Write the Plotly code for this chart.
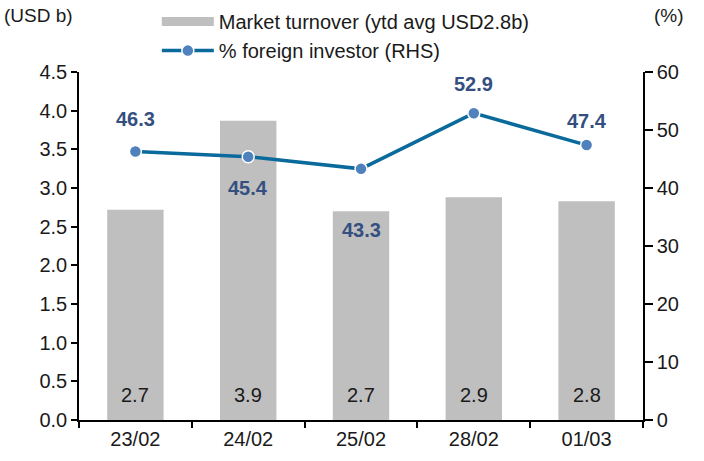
import plotly.graph_objects as go

categories = ["23/02", "24/02", "25/02", "28/02", "01/03"]
turnover = [2.72, 3.87, 2.70, 2.88, 2.83]
turnover_labels = ["2.7", "3.9", "2.7", "2.9", "2.8"]
foreign_pct = [46.3, 45.4, 43.3, 52.9, 47.4]
foreign_labels = ["46.3", "45.4", "43.3", "52.9", "47.4"]
label_shift = [32, -31, -61, 29, 24]

FONT = "Liberation Sans, Arial, sans-serif"
BAR_COLOR = "#BFBFBF"
PLOT_TOP = 348 / 420

fig = go.Figure()
fig.add_trace(go.Bar(
    x=categories, y=turnover, name="Market turnover (ytd avg USD2.8b)",
    marker=dict(color=BAR_COLOR, line=dict(width=0)),
    width=0.5, showlegend=False,
))
# legend proxy for the bar series (wide grey rectangle)
fig.add_trace(go.Scatter(
    x=[None], y=[None], mode="lines", name="Market turnover (ytd avg USD2.8b)",
    line=dict(color=BAR_COLOR, width=9),
))
fig.add_trace(go.Scatter(
    x=categories, y=foreign_pct, name="% foreign investor (RHS)", yaxis="y2",
    mode="lines+markers",
    line=dict(color="#0A6A9C", width=3.5),
    marker=dict(color="#4F81BD", size=12, line=dict(color="white", width=1.5)),
))

annotations = []
for c, v, t, s in zip(categories, foreign_pct, foreign_labels, label_shift):
    annotations.append(dict(x=c, y=v, xref="x", yref="y2", text=f"<b>{t}</b>", showarrow=False,
                            yshift=s, font=dict(size=20, color="#344F80", family=FONT)))
for c, t in zip(categories, turnover_labels):
    annotations.append(dict(x=c, y=0, xref="x", yref="y", text=t, showarrow=False,
                            yshift=25, font=dict(size=20, color="#1a1a1a", family=FONT)))
annotations += [
    dict(x=0, y=1, xref="paper", yref="paper", xanchor="left", yanchor="top",
         text="(USD b)", showarrow=False, font=dict(size=19), xshift=-77, yshift=-3),
    dict(x=1, y=1, xref="paper", yref="paper", xanchor="left", yanchor="top",
         text="(%)", showarrow=False, font=dict(size=19), xshift=9, yshift=-3),
]

axis_common = dict(showline=True, linecolor="black", linewidth=1.5,
                   ticks="outside", tickcolor="black", tickwidth=1.5,
                   showgrid=False, zeroline=False, tickfont=dict(size=20),
                   automargin=False)

fig.update_layout(
    width=704, height=461,
    margin=dict(l=79, r=61, t=0, b=41, autoexpand=False),
    paper_bgcolor="white", plot_bgcolor="white",
    font=dict(family=FONT, size=20, color="#1a1a1a"),
    showlegend=True,
    legend=dict(x=0.138, y=0.995, xanchor="left", yanchor="top",
                bgcolor="rgba(0,0,0,0)", font=dict(size=20),
                tracegroupgap=0, itemwidth=52),
    xaxis=dict(tickson="boundaries", ticklen=6, **axis_common),
    yaxis=dict(range=[0, 4.5], dtick=0.5, tickformat=".1f", ticklen=6,
               domain=[0, PLOT_TOP], **axis_common),
    yaxis2=dict(range=[0, 60], dtick=10, overlaying="y", side="right", ticklen=8,
                **axis_common),
    annotations=annotations,
)

fig.write_html("out.html", config={"displayModeBar": False},
               post_script="document.body.style.margin='0';")
